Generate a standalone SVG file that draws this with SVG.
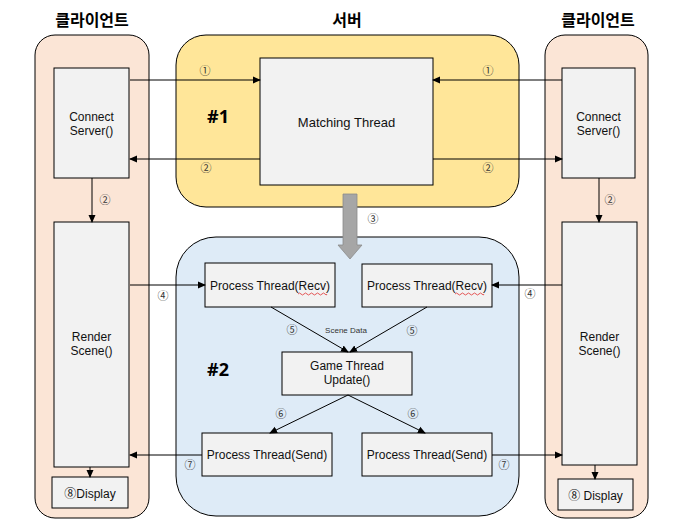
<svg xmlns="http://www.w3.org/2000/svg" width="676" height="527" viewBox="0 0 676 527">
<style>
.panel{stroke:#000;stroke-width:1}
.client{fill:#FBE5D6}
.box{fill:#F2F2F2;stroke:#000;stroke-width:1}
.t{font-family:"Liberation Sans","Noto Sans CJK KR",sans-serif;font-size:12px;fill:#111;text-anchor:middle}
.n{font-family:"Noto Sans CJK KR",sans-serif;font-size:11px;fill:#333;text-anchor:middle}
.title{font-family:"Noto Sans CJK KR",sans-serif;font-size:16px;font-weight:bold;fill:#000;text-anchor:middle}
.hash{font-family:"Noto Sans","Liberation Sans",sans-serif;font-size:18px;font-weight:bold;fill:#000;text-anchor:middle}
.c{stroke:#000;stroke-width:1;fill:none;marker-end:url(#ah)}
</style>
<defs>
<marker id="ah" markerWidth="8" markerHeight="8" refX="7" refY="4" orient="auto" markerUnits="userSpaceOnUse">
<path d="M0,0.5 L8,4 L0,7.5 Z" fill="#000"/>
</marker>
</defs>
<rect width="676" height="527" fill="#fff"/>
<g id="titles">
<text class="title" x="92" y="26">클라이언트</text>
<text class="title" x="347" y="26">서버</text>
<text class="title" x="598" y="26">클라이언트</text>
</g>
<g id="client-left-panel"><rect class="panel client" x="35" y="35" width="114" height="483" rx="20"/></g>
<g id="client-right-panel"><rect class="panel client" x="545" y="35" width="103" height="483" rx="20"/></g>
<g id="server-panel"><rect class="panel" x="176" y="35" width="343" height="172" rx="30" fill="#FFE699"/>
<text class="hash" x="218" y="123">#1</text></g>
<g id="game-panel"><rect class="panel" x="176" y="237" width="343" height="279" rx="40" fill="#DEEBF7"/>
<text class="hash" x="218" y="376">#2</text></g>

<g id="connect-left"><rect class="box" x="54" y="68" width="75" height="110"/>
<text class="t" x="91.5" y="121">Connect</text><text class="t" x="91.5" y="135">Server()</text></g>
<g id="render-left"><rect class="box" x="54" y="222" width="75" height="245"/>
<text class="t" x="91.5" y="341">Render</text><text class="t" x="91.5" y="355">Scene()</text></g>
<g id="display-left"><rect class="box" x="52" y="477" width="76" height="31"/>
<text class="t" x="90" y="498">⑧Display</text></g>

<g id="connect-right"><rect class="box" x="562" y="68" width="73" height="110"/>
<text class="t" x="598.5" y="121">Connect</text><text class="t" x="598.5" y="135">Server()</text></g>
<g id="render-right"><rect class="box" x="562" y="222" width="75" height="243"/>
<text class="t" x="599.5" y="341">Render</text><text class="t" x="599.5" y="355">Scene()</text></g>
<g id="display-right"><rect class="box" x="558" y="479" width="75" height="31"/>
<text class="t" x="595.5" y="500">⑧ Display</text></g>

<g id="matching"><rect class="box" x="260" y="58" width="173" height="127"/>
<text class="t" x="346.5" y="127" style="font-size:13px">Matching Thread</text></g>

<g id="recv-left"><rect class="box" x="205" y="263" width="130" height="44"/>
<text class="t" x="270" y="290">Process Thread(Recv)</text>
<path d="M298,294 q1.5,-2 3,0 t3,0 t3,0 t3,0 t3,0 t3,0 t3,0 t3,0 t3,0 t2,0" stroke="#E03030" stroke-width="0.8" fill="none"/></g>
<g id="recv-right"><rect class="box" x="362" y="264" width="130" height="43"/>
<text class="t" x="427" y="290">Process Thread(Recv)</text>
<path d="M455,294 q1.5,-2 3,0 t3,0 t3,0 t3,0 t3,0 t3,0 t3,0 t3,0 t3,0 t2,0" stroke="#E03030" stroke-width="0.8" fill="none"/></g>
<g id="game-thread"><rect class="box" x="282" y="352" width="130" height="43"/>
<text class="t" x="347" y="370">Game Thread</text><text class="t" x="347" y="384">Update()</text></g>
<g id="send-left"><rect class="box" x="202" y="433" width="130" height="43"/>
<text class="t" x="267" y="459">Process Thread(Send)</text></g>
<g id="send-right"><rect class="box" x="362" y="433" width="130" height="43"/>
<text class="t" x="427" y="459">Process Thread(Send)</text></g>

<g id="connectors">
<line class="c" x1="130" y1="80" x2="260" y2="80"/>
<line class="c" x1="260" y1="159" x2="130" y2="159"/>
<line class="c" x1="562" y1="80" x2="433" y2="80"/>
<line class="c" x1="433" y1="159" x2="562" y2="159"/>
<line class="c" x1="92" y1="178" x2="92" y2="222"/>
<line class="c" x1="599" y1="178" x2="599" y2="222"/>
<path d="M343,194 H357 V245 H362 L350,259 L338,245 H343 Z" fill="#A6A6A6" stroke="#8C8C8C" stroke-width="0.8"/>
<line class="c" x1="130" y1="285" x2="205" y2="285"/>
<line class="c" x1="562" y1="285" x2="492" y2="285"/>
<line class="c" x1="271" y1="307" x2="348" y2="352"/>
<line class="c" x1="427" y1="307" x2="350" y2="352"/>
<line class="c" x1="348" y1="395" x2="270" y2="433"/>
<line class="c" x1="348" y1="395" x2="425" y2="433"/>
<line class="c" x1="202" y1="455" x2="130" y2="455"/>
<line class="c" x1="492" y1="455" x2="562" y2="455"/>
<line class="c" x1="90" y1="467" x2="90" y2="477"/>
<line class="c" x1="595" y1="465" x2="595" y2="479"/>
<text class="n" x="205" y="75">①</text>
<text class="n" x="206" y="172">②</text>
<text class="n" x="488" y="75">①</text>
<text class="n" x="488" y="172">②</text>
<text class="n" x="105" y="204">②</text>
<text class="n" x="610" y="204">②</text>
<text class="n" x="373" y="223">③</text>
<text class="n" x="163" y="300">④</text>
<text class="n" x="530" y="298">④</text>
<text class="n" x="292" y="334">⑤</text>
<text class="n" x="412" y="335">⑤</text>
<text class="n" x="346" y="333" style="font-family:'Liberation Sans',sans-serif;font-size:8px">Scene Data</text>
<text class="n" x="281" y="418">⑥</text>
<text class="n" x="413" y="418">⑥</text>
<text class="n" x="190" y="469">⑦</text>
<text class="n" x="504" y="469">⑦</text>
</g>
</svg>
